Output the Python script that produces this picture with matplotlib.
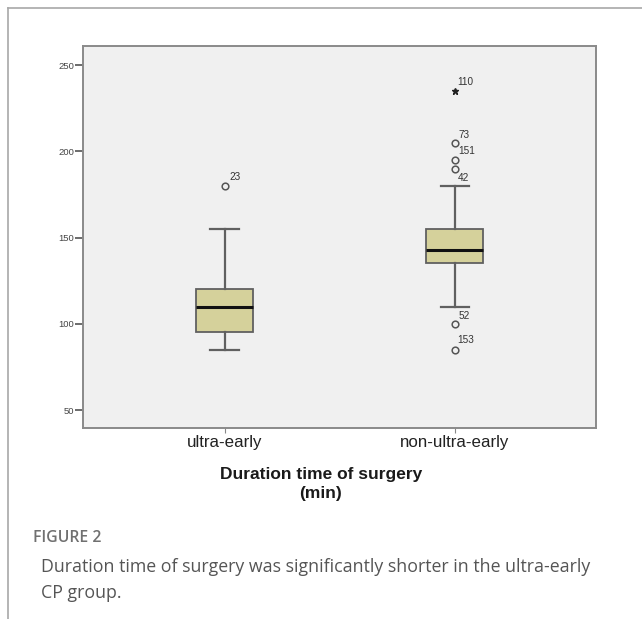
import matplotlib
matplotlib.use("Agg")
import matplotlib.pyplot as plt
from matplotlib.lines import Line2D

# --- data ---
groups = ["ultra-early", "non-ultra-early"]
q1 = [95, 135]
medians = [110, 143]
q3 = [120, 155]
whisker_lo = [85, 110]
whisker_hi = [155, 180]

# outliers (circles) per group, with case labels
out_group = [1, 2, 2, 2, 2, 2]
out_values = [180, 205, 195, 190, 100, 85]
out_labels = ["23", "73", "151", "42", "52", "153"]
# extreme values (stars)
ext_group = [2]
ext_values = [235]
ext_labels = ["110"]

# label offsets in pixels (dx, dy) for each case label
out_offsets = [(5, 9), (4, 8), (3, 9), (3, -9), (4, 8), (2, 10)]
ext_offsets = [(2, 9)]

plt.rcParams['font.family'] = ['Liberation Sans', 'DejaVu Sans']

W, H = 642, 619
fig = plt.figure(figsize=(W / 100, H / 100), dpi=100)
ax = fig.add_axes([83 / W, 1 - 428 / H, (596 - 83) / W, (428 - 45.7) / H])
ax.set_facecolor('#f0f0f0')

stats = []
for i in range(len(groups)):
    stats.append(dict(med=medians[i], q1=q1[i], q3=q3[i],
                      whislo=whisker_lo[i], whishi=whisker_hi[i],
                      fliers=[], label=groups[i]))

ax.bxp(stats, positions=[1, 2], widths=0.247, capwidths=0.124,
       showfliers=False, patch_artist=True,
       boxprops=dict(facecolor='#d5d19b', edgecolor='#606060', linewidth=1.3),
       medianprops=dict(color='#111111', linewidth=2.2),
       whiskerprops=dict(color='#606060', linewidth=1.6),
       capprops=dict(color='#606060', linewidth=1.6))

ax.plot(out_group, out_values, linestyle='none', marker='o', markersize=4.8,
        markerfacecolor='none', markeredgecolor='#555555', markeredgewidth=1.1)
ax.plot(ext_group, ext_values, linestyle='none', marker='*', markersize=4.5,
        color='#222222')

for g, v, lab, off in zip(out_group, out_values, out_labels, out_offsets):
    ax.annotate(lab, (g, v), xytext=off, textcoords='offset pixels',
                ha='left', va='center', fontsize=7.2, color='#333333')
for g, v, lab, off in zip(ext_group, ext_values, ext_labels, ext_offsets):
    ax.annotate(lab, (g, v), xytext=off, textcoords='offset pixels',
                ha='left', va='center', fontsize=7.2, color='#333333')

ax.set_xlim(0.386, 2.612)
ax.set_ylim(39.6, 261.2)
ax.set_yticks([50, 100, 150, 200, 250])
ax.tick_params(axis='y', direction='out', length=5.5, width=1.1, color='#444444',
               labelsize=6.8, labelcolor='#444444', pad=1)
ax.tick_params(axis='x', direction='out', length=3.5, width=0.8, color='#888888',
               labelsize=12.2, labelcolor='#222222', pad=1.5)
ax.set_xticks([1, 2])
ax.set_xticklabels(groups)
for s in ax.spines.values():
    s.set_color('#8a8a8a')
    s.set_linewidth(1.4)

fig.text(321 / W, 1 - 484 / H, "Duration time of surgery\n(min)", ha='center', va='center',
         multialignment='center', fontsize=12.5, fontweight='bold', color='#1a1a1a',
         linespacing=1.27)

# page frame lines
fig.add_artist(Line2D([8 / W, 8 / W], [0, 1 - 8 / H], transform=fig.transFigure,
                      color='#a8a8a8', linewidth=1.2))
fig.add_artist(Line2D([8 / W, 1], [1 - 8 / H, 1 - 8 / H], transform=fig.transFigure,
                      color='#a8a8a8', linewidth=1.2))

# caption
fig.text(33 / W, 1 - 537.7 / H, "FIGURE 2", ha='left', va='center', fontsize=11.3,
         family=['Open Sans', 'DejaVu Sans'], fontweight='semibold', color='#707070')
fig.text(41 / W, 1 - 566.6 / H, "Duration time of surgery was significantly shorter in the ultra-early",
         ha='left', va='center', fontsize=12.8, family=['Open Sans', 'DejaVu Sans'], color='#555555')
fig.text(41 / W, 1 - 592.5 / H, "CP group.", ha='left', va='center', fontsize=12.8,
         family=['Open Sans', 'DejaVu Sans'], color='#555555')

fig.savefig("out.png", dpi=100, facecolor='white')
